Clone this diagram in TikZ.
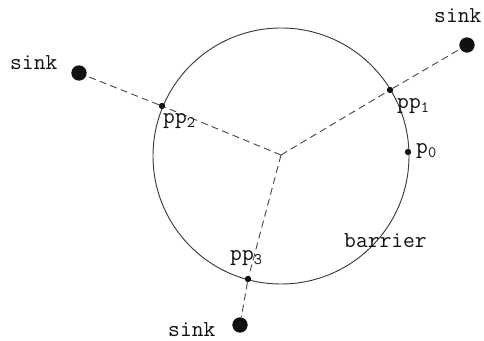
\documentclass[tikz,border=0pt]{standalone}
\usepackage{tikz}
\usetikzlibrary{calc}
\definecolor{ink}{HTML}{111111}
\definecolor{rim}{HTML}{3C3C3C}
\definecolor{muted}{HTML}{4A4A4A}
\tikzset{
  sink/.style={circle,fill=ink,inner sep=0pt,minimum size=4.6mm},
  relay/.style={circle,fill=ink,inner sep=0pt,minimum size=1.9mm},
  link/.style={draw=muted,line width=.8pt,dash pattern=on 2.1mm off 1.3mm},
  border/.style={draw=rim,line width=.8pt},
  tag/.style={font=\fontsize{19.5}{22}\selectfont\ttfamily,text=ink,inner sep=0pt,anchor=base west},
}

\begin{document}
\begin{tikzpicture}[x=.3mm,y=-.3mm]
  \useasboundingbox (0,0) rectangle (484,341);
  \coordinate (hub) at (281,155);
  \draw[border] (281,156) circle[radius=128];

  \node[sink] (sinkA) at (467,45) {};
  \node[sink] (sinkB) at (79,73) {};
  \node[sink] (sinkC) at (240,325) {};
  \node[relay] (pp1) at (390,90) {};
  \node[relay] (pp2) at (162,106) {};
  \node[relay] (pp3) at (248,279) {};
  \node[relay] (p0) at (408,152) {};

  \draw[link] (hub)--(pp1)--(sinkA);
  \draw[link] (hub)--(pp2)--(sinkB);
  \draw[link] (hub)--(pp3)--(sinkC);

  \node[tag] (sinkAtxt) at (434,23) {sink};
  \node[tag] (sinkBtxt) at (10,70) {sink};
  \node[tag] (sinkCtxt) at (168,336) {sink};
  \node[tag] (pp1txt) at (397,109) {pp\textsubscript{1}};
  \node[tag] (pp2txt) at (163,124) {pp\textsubscript{2}};
  \node[tag] (pp3txt) at (230,261) {pp\textsubscript{3}};
  \node[tag] (p0txt) at (416,154) {p\textsubscript{0}};
  \node[tag] (bartxt) at (344,248) {barrier};
\end{tikzpicture}
\end{document}
